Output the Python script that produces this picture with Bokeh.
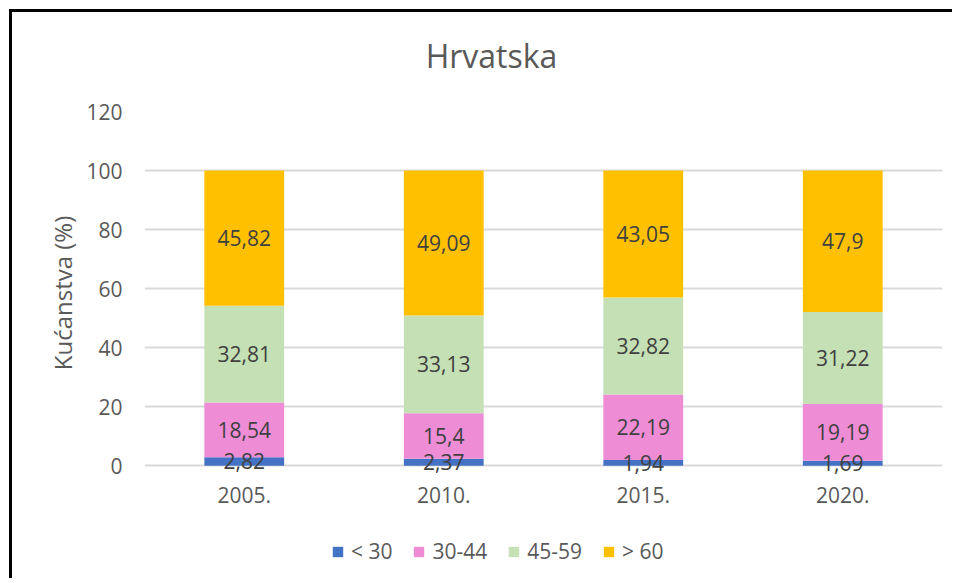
from bokeh.plotting import figure
from bokeh.layouts import column
from bokeh.models import (ColumnDataSource, FactorRange, Range1d, FixedTicker,
                          Legend, LegendItem, LabelSet, Label)
from bokeh.core.properties import value
from bokeh.embed import file_html
from bokeh.resources import INLINE

# ---- data ----
years = ["2005.", "2010.", "2015.", "2020."]
groups = ["< 30", "30-44", "45-59", "> 60"]
under_30 = [2.82, 2.37, 1.94, 1.69]
age_30_44 = [18.54, 15.4, 22.19, 19.19]
age_45_59 = [32.81, 33.13, 32.82, 31.22]
over_60 = [45.82, 49.09, 43.05, 47.9]
y_ticks = [0, 20, 40, 60, 80, 100, 120]
title_text = "Hrvatska"
y_label = "Kućanstva (%)"

colors = ["#4472C4", "#EE8DD5", "#C5E0B4", "#FFC000"]
series = [under_30, age_30_44, age_45_59, over_60]
keys = ["s0", "s1", "s2", "s3"]

data = {"year": years}
for k, s in zip(keys, series):
    data[k] = s
source = ColumnDataSource(data)

# label positions (segment centres)
lx, ly, lt = [], [], []
for i, yr in enumerate(years):
    base = 0.0
    for s in series:
        v = s[i]
        lx.append(yr)
        ly.append(base + v / 2.0)
        lt.append(str(v).replace(".", ","))
        base += v
label_src = ColumnDataSource(dict(x=lx, y=ly, t=lt))

FONT = "Open Sans"
GREY = "#595959"
W = 943
BL, BR = 132, 13  # left / right borders -> plot frame 798 px wide

# ---- main chart ----
p = figure(x_range=FactorRange(*years), y_range=Range1d(-3, 120),
           width=W, height=439, output_backend="svg", toolbar_location=None,
           min_border_left=BL, min_border_right=BR, min_border_top=15,
           min_border_bottom=61, background_fill_color="white",
           border_fill_color="white", outline_line_color=None)

renderers = p.vbar_stack(keys, x="year", width=0.4, color=colors, source=source,
                         line_color=None)

labels = LabelSet(x="x", y="y", text="t", source=label_src,
                  text_font=value(FONT), text_font_size="21px",
                  text_color="#404040", text_align="center",
                  text_baseline="middle")
p.add_layout(labels)

p.xgrid.grid_line_color = None
p.ygrid.grid_line_color = "#D9D9D9"
p.ygrid.grid_line_width = 2
p.yaxis.ticker = FixedTicker(ticks=y_ticks)
for ax in (p.xaxis[0], p.yaxis[0]):
    ax.axis_line_color = None
    ax.major_tick_line_color = None
    ax.minor_tick_line_color = None
    ax.major_label_text_font = FONT
    ax.major_label_text_font_size = "21px"
    ax.major_label_text_color = GREY
p.yaxis.major_label_standoff = 16
p.xaxis.major_label_standoff = 6
p.yaxis.axis_label = y_label
p.yaxis.axis_label_text_font = FONT
p.yaxis.axis_label_text_font_size = "24px"
p.yaxis.axis_label_text_font_style = "normal"
p.yaxis.axis_label_text_color = GREY
p.yaxis.axis_label_standoff = 4


def strip(h, x_range, y_range):
    f = figure(width=W, height=h, x_range=x_range, y_range=y_range,
               output_backend="svg", toolbar_location=None,
               min_border_left=BL, min_border_right=BR, min_border_top=0,
               min_border_bottom=0, outline_line_color=None,
               background_fill_color="white", border_fill_color="white")
    f.axis.visible = False
    f.grid.visible = False
    return f


# ---- title strip ----
tf = strip(84, Range1d(0, 798), Range1d(0, 84))
tf.add_layout(Label(x=347, y=41.5, text=title_text, text_font=FONT,
                    text_font_size="32px", text_color=GREY,
                    text_align="center", text_baseline="middle"))

# ---- legend strip (same data, bars kept out of view) ----
lf = strip(46, p.x_range, Range1d(200, 201))
lrs = lf.vbar_stack(keys, x="year", width=0.4, color=colors, source=source,
                    line_color=None)
items = [LegendItem(label=g, renderers=[r]) for g, r in zip(groups, lrs)]
legend = Legend(items=items, orientation="horizontal", location=(187, 16),
                glyph_width=13, glyph_height=13, label_standoff=7, spacing=20,
                padding=0, margin=0, border_line_color=None,
                background_fill_alpha=0, label_text_font=FONT,
                label_text_font_size="21px", label_text_color=GREY)
lf.add_layout(legend, "center")

layout = column(tf, p, lf, spacing=0)
layout.margin = (12, 0, 0, 12)
layout.styles = {"box-shadow": "-3px -3px 0 0 #000000"}

open("out.html", "w").write(file_html(layout, INLINE))
